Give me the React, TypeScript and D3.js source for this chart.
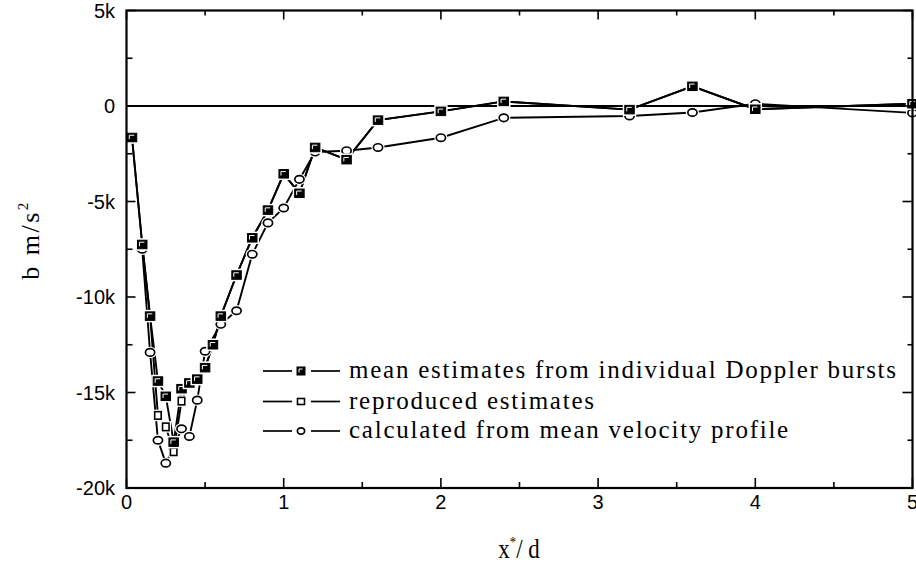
import React from "react";
import * as d3 from "d3";

const meanX = [0.035, 0.1, 0.15, 0.2, 0.25, 0.3, 0.35, 0.4, 0.45, 0.5, 0.55, 0.6, 0.7, 0.8, 0.9, 1.0, 1.1, 1.2, 1.4, 1.6, 2.0, 2.4, 3.2, 3.6, 4.0, 5.0];
const meanY = [-1650, -7250, -11000, -14400, -15200, -17600, -14800, -14500, -14300, -13700, -12500, -11000, -8850, -6900, -5450, -3550, -4570, -2170, -2810, -740, -280, 240, -190, 1030, -170, 120];

const reprX = [0.035, 0.1, 0.15, 0.2, 0.25, 0.3, 0.35, 0.4, 0.45, 0.5, 0.55, 0.6, 0.7, 0.8, 0.9, 1.0, 1.1, 1.2, 1.4, 1.6, 2.0, 2.4, 3.2, 3.6, 4.0, 5.0];
const reprY = [-1650, -7250, -11000, -16200, -16800, -18100, -15450, -14500, -14300, -13700, -12500, -11000, -8850, -6900, -5450, -3550, -4570, -2170, -2810, -740, -280, 240, -190, 1030, -170, 120];

const calcX = [0.1, 0.15, 0.2, 0.25, 0.3, 0.35, 0.4, 0.45, 0.5, 0.6, 0.7, 0.8, 0.9, 1.0, 1.1, 1.2, 1.4, 1.6, 2.0, 2.4, 3.2, 3.6, 4.0, 5.0];
const calcY = [-7500, -12900, -17500, -18700, -17900, -16900, -17300, -15400, -12840, -11430, -10720, -7760, -6120, -5340, -3840, -2410, -2340, -2170, -1660, -620, -520, -340, 120, -360];

const xMajor = [0, 1, 2, 3, 4, 5];
const xMinor = [0.5, 1.5, 2.5, 3.5, 4.5];
const yMajor = [5000, 0, -5000, -10000, -15000, -20000];
const yMinor = [2500, -2500, -7500, -12500, -17500];
const yTickLabels = ["5k", "0", "-5k", "-10k", "-15k", "-20k"];
const xTickLabels = ["0", "1", "2", "3", "4", "5"];

const legendLabels = [
  "mean estimates from individual Doppler bursts",
  "reproduced estimates",
  "calculated from mean velocity profile",
];

const W = 916;
const H = 564;
const L = 126.5, R = 912.5, T = 10.5, B = 488;

export default function App() {
  const x = d3.scaleLinear().domain([0, 5]).range([L, R]);
  const y = d3.scaleLinear().domain([-20000, 5000]).range([B, T]);
  const line = d3.line<[number, number]>().x((d) => x(d[0])).y((d) => y(d[1]));

  const mean = meanX.map((v, i) => [v, meanY[i]] as [number, number]);
  const repr = reprX.map((v, i) => [v, reprY[i]] as [number, number]);
  const calc = calcX.map((v, i) => [v, calcY[i]] as [number, number]);

  const filledSq = (cx: number, cy: number, w: number, h: number, key: string, halo = true) => (
    <g key={key}>
      {halo && <rect x={cx - w / 2 - 2} y={cy - h / 2 - 2} width={w + 4} height={h + 4} fill="#fff" />}
      <rect x={cx - w / 2} y={cy - h / 2} width={w} height={h} fill="#000" stroke="#000" strokeWidth={1} />
      <path d={`M${cx - w / 2 + 2},${cy + h / 2 - 2.5} L${cx - w / 2 + 2},${cy - h / 2 + 2} L${cx + w / 2 - 2.5},${cy - h / 2 + 2}`} fill="none" stroke="#fff" strokeWidth={1} />
    </g>
  );
  const openSq = (cx: number, cy: number, w: number, h: number, key: string, halo = true) => (
    <g key={key}>
      {halo && <rect x={cx - w / 2 - 2} y={cy - h / 2 - 2} width={w + 4} height={h + 4} fill="#fff" />}
      <rect x={cx - w / 2} y={cy - h / 2} width={w} height={h} fill="#fff" stroke="#000" strokeWidth={1.6} />
    </g>
  );
  const circ = (cx: number, cy: number, rx: number, ry: number, key: string, halo = true) => (
    <g key={key}>
      {halo && <ellipse cx={cx} cy={cy} rx={rx + 2} ry={ry + 2} fill="#fff" />}
      <ellipse cx={cx} cy={cy} rx={rx} ry={ry} fill="#fff" stroke="#000" strokeWidth={1.7} />
    </g>
  );

  const legendRows = [371, 401.5, 431];
  const serif = "Liberation Serif, Times New Roman, serif";
  const sans = "Liberation Sans, Arial, sans-serif";

  return (
    <svg width={W} height={H} style={{ display: "block", position: "absolute", left: 0, top: 0 }}>
      <rect x={0} y={0} width={W} height={H} fill="#fff" />
      {/* zero line */}
      <line x1={L} x2={R} y1={y(0)} y2={y(0)} stroke="#000" strokeWidth={2.2} />
      {/* series lines */}
      <path d={line(calc) || ""} fill="none" stroke="#000" strokeWidth={1.9} />
      <path d={line(repr) || ""} fill="none" stroke="#000" strokeWidth={1.9} />
      <path d={line(mean) || ""} fill="none" stroke="#000" strokeWidth={1.9} />
      {/* markers */}
      {calc.map((d, i) => circ(x(d[0]), y(d[1]), 4.6, 3.7, "c" + i))}
      {repr.map((d, i) => openSq(x(d[0]), y(d[1]), 6.5, 7.5, "r" + i))}
      {mean.map((d, i) => filledSq(x(d[0]), y(d[1]), 9.5, 8.5, "m" + i))}
      {/* frame */}
      <rect x={L} y={T} width={R - L} height={B - T} fill="none" stroke="#000" strokeWidth={2.2} />
      {/* ticks */}
      {xMajor.map((v, i) => (
        <g key={"xM" + i}>
          <line x1={x(v)} x2={x(v)} y1={B} y2={B - 10} stroke="#000" strokeWidth={1.6} />
          <line x1={x(v)} x2={x(v)} y1={T} y2={T + 9} stroke="#000" strokeWidth={1.6} />
        </g>
      ))}
      {xMinor.map((v, i) => (
        <g key={"xm" + i}>
          <line x1={x(v)} x2={x(v)} y1={B} y2={B - 6} stroke="#000" strokeWidth={1.6} />
          <line x1={x(v)} x2={x(v)} y1={T} y2={T + 5} stroke="#000" strokeWidth={1.6} />
        </g>
      ))}
      {yMajor.map((v, i) => (
        <g key={"yM" + i}>
          <line x1={L} x2={L + 9} y1={y(v)} y2={y(v)} stroke="#000" strokeWidth={1.6} />
          <line x1={R} x2={R - 10} y1={y(v)} y2={y(v)} stroke="#000" strokeWidth={1.6} />
        </g>
      ))}
      {yMinor.map((v, i) => (
        <g key={"ym" + i}>
          <line x1={L} x2={L + 6} y1={y(v)} y2={y(v)} stroke="#000" strokeWidth={1.6} />
          <line x1={R} x2={R - 5} y1={y(v)} y2={y(v)} stroke="#000" strokeWidth={1.6} />
        </g>
      ))}
      {/* tick labels */}
      {yMajor.map((v, i) => (
        <text key={"yl" + i} x={115} y={y(v) + 7} textAnchor="end" fontFamily={sans} fontSize={20} fill="#000">
          {yTickLabels[i]}
        </text>
      ))}
      {xMajor.map((v, i) => (
        <text key={"xl" + i} x={x(v)} y={509} textAnchor="middle" fontFamily={sans} fontSize={20} fill="#000">
          {xTickLabels[i]}
        </text>
      ))}
      {/* axis titles */}
      <g transform="translate(519,558) scale(0.85,1)">
        <text x={0} y={0} textAnchor="middle" fontFamily={serif} fontSize={27} fill="#000">
          x<tspan dy={-11} fontSize={15}>*</tspan><tspan dy={11}>/ d</tspan>
        </text>
      </g>
      <text transform="translate(39,240) rotate(-90)" textAnchor="middle" fontFamily={serif} fontSize={26} letterSpacing={2.5} fill="#000">
        b m/s<tspan dy={-11} fontSize={15}>2</tspan>
      </text>
      {/* legend */}
      {legendLabels.map((lab, i) => {
        const ly = legendRows[i];
        return (
          <g key={"lg" + i}>
            <line x1={263} x2={292} y1={ly} y2={ly} stroke="#000" strokeWidth={1.7} />
            <line x1={311} x2={340} y1={ly} y2={ly} stroke="#000" strokeWidth={1.7} />
            {i === 0 && filledSq(301, ly, 8, 8, "lm", false)}
            {i === 1 && openSq(301, ly, 7, 6, "lr", false)}
            {i === 2 && circ(301, ly, 3.6, 3.2, "lc", false)}
            <text x={349} y={ly + 7} fontFamily={serif} fontSize={25} letterSpacing={1.75} fill="#000">
              {lab}
            </text>
          </g>
        );
      })}
    </svg>
  );
}
